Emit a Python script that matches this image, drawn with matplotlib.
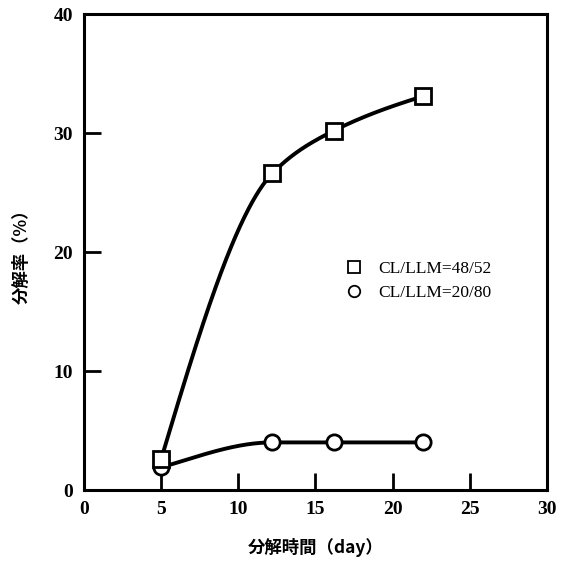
import matplotlib
matplotlib.use('Agg')
import matplotlib.pyplot as plt
import numpy as np

plt.rcParams['font.family'] = ['Liberation Serif', 'Noto Sans CJK JP']

days = [5, 12.2, 16.2, 22]
rate_48_52 = [2.6, 26.6, 30.2, 33.1]
rate_20_80 = [1.9, 4.0, 4.0, 4.0]
labels = ['CL/LLM=48/52', 'CL/LLM=20/80']
xticks = [0, 5, 10, 15, 20, 25, 30]
yticks = [0, 10, 20, 30, 40]


def pchip(x, y, xs):
    # monotone cubic through the points, for the smooth hand-drawn curve
    x = np.asarray(x, float)
    y = np.asarray(y, float)
    h = np.diff(x)
    d = np.diff(y) / h
    m = np.zeros_like(y)
    for k in range(1, len(x) - 1):
        if d[k - 1] * d[k] > 0:
            w1 = 2 * h[k] + h[k - 1]
            w2 = h[k] + 2 * h[k - 1]
            m[k] = (w1 + w2) / (w1 / d[k - 1] + w2 / d[k])
    m[0] = d[0] * 1.3
    m[-1] = d[-1] * 0.8
    ys = np.empty_like(xs)
    for i, xv in enumerate(xs):
        k = min(np.searchsorted(x, xv) - 1, len(x) - 2)
        k = max(k, 0)
        t = (xv - x[k]) / h[k]
        h00 = 2 * t**3 - 3 * t**2 + 1
        h10 = t**3 - 2 * t**2 + t
        h01 = -2 * t**3 + 3 * t**2
        h11 = t**3 - t**2
        ys[i] = h00 * y[k] + h10 * h[k] * m[k] + h01 * y[k + 1] + h11 * h[k] * m[k + 1]
    return ys


fig = plt.figure(figsize=(5.65, 5.68), dpi=100)
ax = fig.add_axes([0.1487, 0.1373, 0.8193, 0.838])

xs = np.linspace(days[0], days[-1], 300)
ax.plot(xs, pchip(days, rate_48_52, xs), color='black', lw=2.8, zorder=2)
ax.plot(xs, pchip(days, rate_20_80, xs), color='black', lw=2.8, zorder=2)
ax.plot(days, rate_20_80, 'o', ms=11, mfc='white', mec='black', mew=2, ls='none',
        label=labels[1], zorder=3)
ax.plot(days, rate_48_52, 's', ms=11, mfc='white', mec='black', mew=2, ls='none',
        label=labels[0], zorder=4)

ax.set_xlim(0, 30)
ax.set_ylim(0, 40)
ax.set_xticks(xticks)
ax.set_yticks(yticks)
ax.tick_params(direction='in', length=12, width=2, labelsize=14, pad=8)
for lab in ax.get_xticklabels() + ax.get_yticklabels():
    lab.set_fontweight('bold')
for s in ax.spines.values():
    s.set_linewidth(2.2)

ax.set_xlabel('分解時間（day）', fontsize=12.5, fontweight='bold',
              family=['Noto Sans CJK JP'], labelpad=14)
ax.set_ylabel('分解率（%）', fontsize=12.5, fontweight='bold',
              family=['Noto Sans CJK JP'], labelpad=16)

h, l = ax.get_legend_handles_labels()
leg = ax.legend(h[::-1], l[::-1], loc='upper left', bbox_to_anchor=(0.53, 0.515),
                frameon=False, fontsize=12.5, handletextpad=0.9, labelspacing=0.5,
                markerscale=0.75, handlelength=1.0)
for hd in leg.legend_handles:
    hd.set_markeredgewidth(1.3)

fig.savefig('out.png', dpi=100)
